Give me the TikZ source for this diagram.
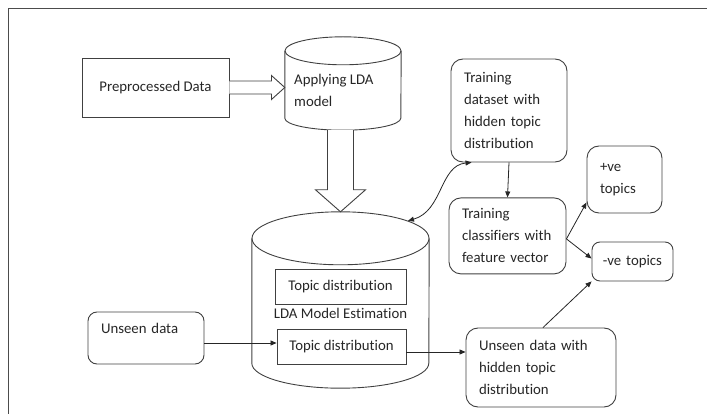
\documentclass[tikz,border=0pt]{standalone}
\usepackage{fontspec}
\setmainfont{Carlito}[Ligatures=NoCommon]
\usetikzlibrary{positioning,calc,arrows.meta}
\newcommand{\diagfont}{\fontsize{14.8}{22}\selectfont}
\tikzset{
  ln/.style={draw=black!75,line width=0.9pt},
  txt/.style={inner sep=0pt,font=\diagfont,text=black!85},
  sqbox/.style={ln,txt,align=center},
  rbox/.style={ln,txt,rounded corners=12pt,align=left,inner xsep=13pt},
  hollow/.style={ln,fill=white,line join=miter},
  arr/.style={-{Triangle[length=6pt,width=5pt]},line width=0.8pt,draw=black!85},
  biarr/.style={{Triangle[length=6pt,width=5pt]}-{Triangle[length=6pt,width=5pt]},line width=0.8pt,draw=black!85},
  frame/.style={draw=black!70,line width=1pt}
}

\begin{document}
\begin{tikzpicture}[x=1pt,y=1pt,node distance=35pt]
\useasboundingbox (0,0) rectangle (707,-414);
\draw[frame] (8,-414) -- (8,-9) -- (707,-9);

\node[sqbox,minimum width=147pt,minimum height=59pt] (pre) at (155.5,-87.5) {Preprocessed Data};

% cylinders
\node[inner sep=0pt,minimum width=116pt,minimum height=93pt] (apply) at (343,-83.5) {};
\draw[ln] ($(apply.north)+(0,-14)$) ellipse [x radius=58pt,y radius=14pt];
\draw[ln] ($(apply.north west)+(0,-14)$) -- ($(apply.south west)+(0,12)$)
  arc[start angle=180,end angle=360,x radius=58pt,y radius=12pt] -- ($(apply.north east)+(0,-14)$);
\node[txt,anchor=west,align=left] (applytxt) at (294,-90) {Applying LDA\\model};

\node[inner sep=0pt,minimum width=177pt,minimum height=176pt] (lda) at (340.5,-300) {};
\draw[ln] ($(lda.north)+(0,-26.5)$) ellipse [x radius=88.5pt,y radius=26.5pt];
\draw[ln] ($(lda.north west)+(0,-26.5)$) -- ($(lda.south west)+(0,25)$)
  arc[start angle=180,end angle=360,x radius=88.5pt,y radius=25pt] -- ($(lda.north east)+(0,-26.5)$);

\node[sqbox,minimum width=131pt,minimum height=35pt] (tdA) at (340.5,-286.5) {Topic distribution};
\node[txt] (est) at (340.5,-313) {LDA Model Estimation};
\node[sqbox,minimum width=129pt,minimum height=35pt] (tdB) at (341.5,-346.5) {Topic distribution};

\node[rbox,text width=90pt,minimum height=103pt] (train) at (509,-110.5)
  {Training\\dataset with\\hidden topic\\distribution};
\node[rbox,text width=91pt,minimum height=76pt,below=of train,xshift=-1.5pt] (cls)
  {Training\\classifiers with\\feature vector};
\node[rbox,text width=49pt,minimum height=67pt] (pos) at (624.5,-179.5) {+ve\\topics};
\node[rbox,rounded corners=8pt,align=center,inner xsep=0pt,text width=81pt,minimum height=39pt] (neg)
  at (632.5,-261.5) {-ve topics};
\node[rbox,rounded corners=9pt,text width=90pt,minimum height=52pt,text depth=19pt] (unseen)
  at (146,-338) {Unseen data};
\node[rbox,text width=124pt,minimum height=79pt] (unhid) at (541,-367.5)
  {Unseen data with\\hidden topic\\distribution};

% hollow arrows
\draw[hollow] ($(pre.east)+(0,6.5)$) -- ($(pre.east)+(42,6.5)$) -- ($(pre.east)+(42,12)$)
  -- (apply.west |- pre.east) -- ($(pre.east)+(42,-12)$) -- ($(pre.east)+(42,-6.5)$) -- ($(pre.east)+(0,-6.5)$);
\coordinate (dtop) at (lda.north |- apply.south);
\draw[hollow] ($(dtop)+(-13,0)$) -- ($(lda.north)+(-13,22)$) -- ($(lda.north)+(-25,22)$)
  -- (lda.north) -- ($(lda.north)+(25,22)$) -- ($(lda.north)+(13,22)$) -- ($(dtop)+(13,0)$);

% connectors
\coordinate (ldatop) at ($(lda.north)+(67.5,-9)$);
\coordinate (trainfoot) at ($(train.south west)+(21,0)$);
\draw[biarr] (ldatop) .. controls ($(ldatop)+(35,10)$) and ($(trainfoot)+(-32,-3)$) .. (trainfoot);
\draw[arr] (train.south) -- (cls.north);
\coordinate (clsout) at ($(cls.east)+(0,-3)$);
\draw[arr] (clsout) -- ($(pos.south west)+(0,11)$);
\draw[arr] (clsout) -- ($(neg.west)+(0,3)$);
\draw[arr] ([yshift=-5pt]unseen.east) -- ([yshift=3.5pt]tdB.west);
\coordinate (tdBout) at ([yshift=-5.5pt]tdB.east);
\draw[arr] (tdBout) -- (tdBout -| unhid.west);
\draw[arr] ($(unhid.north)+(2,0)$) -- (neg.south west);
\end{tikzpicture}
\end{document}
